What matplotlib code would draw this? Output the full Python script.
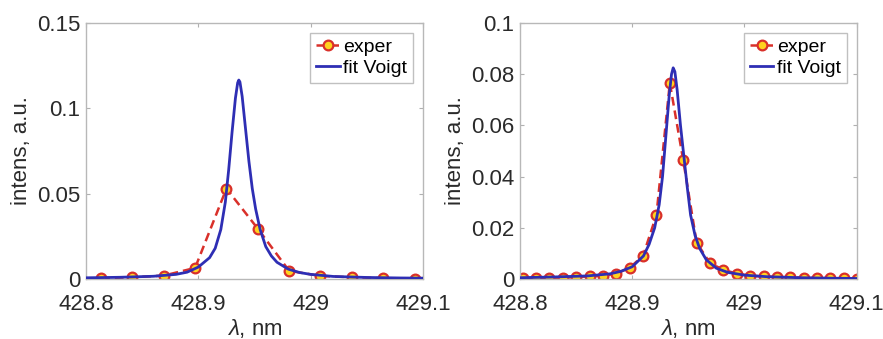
import matplotlib.pyplot as plt

plt.rcParams['font.family'] = ['Liberation Sans', 'DejaVu Sans']
plt.rcParams['mathtext.fontset'] = 'custom'
plt.rcParams['mathtext.it'] = 'Liberation Sans:italic'
plt.rcParams['mathtext.rm'] = 'Liberation Sans'

# left panel: measured points and fitted Voigt profile
exp1_x = [428.8134, 428.8413, 428.8692, 428.8971, 428.9250, 428.9529,
          428.9808, 429.0087, 429.0366, 429.0645, 429.0924]
exp1_y = [0.0005, 0.0010, 0.0020, 0.0065, 0.0530, 0.0295,
          0.0048, 0.0018, 0.0010, 0.0005, 0.0002]
fit1_x = [428.800, 428.830, 428.860, 428.880, 428.890, 428.900, 428.910,
          428.915, 428.920, 428.924, 428.927, 428.930, 428.933, 428.935,
          428.936, 428.937, 428.939, 428.942, 428.945, 428.948, 428.951,
          428.955, 428.960, 428.965, 428.970, 428.980, 428.990, 429.000,
          429.020, 429.050, 429.080, 429.100]
fit1_y = [0.0007, 0.0010, 0.0016, 0.0027, 0.0040, 0.0070, 0.0125,
          0.0180, 0.0290, 0.0450, 0.0640, 0.0860, 0.1060, 0.1150,
          0.1166, 0.1155, 0.1070, 0.0880, 0.0690, 0.0530, 0.0410,
          0.0290, 0.0190, 0.0135, 0.0098, 0.0058, 0.0038, 0.0027,
          0.0015, 0.0009, 0.0006, 0.0005]

# right panel
exp2_x = [428.8024, 428.8143, 428.8262, 428.8382, 428.8501, 428.8620,
          428.8739, 428.8858, 428.8978, 428.9097, 428.9216, 428.9335,
          428.9454, 428.9574, 428.9693, 428.9812, 428.9931, 429.0050,
          429.0170, 429.0289, 429.0408, 429.0527, 429.0646, 429.0766,
          429.0885, 429.1004]
exp2_y = [0.0004, 0.0004, 0.0005, 0.0005, 0.0008, 0.0010, 0.0013,
          0.0021, 0.0044, 0.0091, 0.0251, 0.0766, 0.0465, 0.0142,
          0.0062, 0.0036, 0.0021, 0.0013, 0.0010, 0.0008, 0.0007,
          0.0005, 0.0004, 0.0004, 0.0003, 0.0001]
fit2_x = [428.800, 428.830, 428.860, 428.880, 428.890, 428.900, 428.910,
          428.915, 428.920, 428.924, 428.927, 428.930, 428.933, 428.935,
          428.9365, 428.938, 428.940, 428.943, 428.946, 428.949, 428.952,
          428.956, 428.960, 428.966, 428.975, 428.985, 429.000, 429.020,
          429.050, 429.080, 429.100]
fit2_y = [0.0005, 0.0008, 0.0012, 0.0020, 0.0030, 0.0048, 0.0090,
          0.0135, 0.0200, 0.0290, 0.0400, 0.0560, 0.0720, 0.0800,
          0.0825, 0.0810, 0.0740, 0.0600, 0.0480, 0.0360, 0.0250,
          0.0170, 0.0120, 0.0075, 0.0042, 0.0026, 0.0015, 0.0009,
          0.0005, 0.0003, 0.0002]

xticks = [428.8, 428.9, 429.0, 429.1]
xticklabels = ['428.8', '428.9', '429', '429.1']
yticks1 = [0, 0.05, 0.1, 0.15]
yticklabels1 = ['0', '0.05', '0.1', '0.15']
yticks2 = [0, 0.02, 0.04, 0.06, 0.08, 0.1]
yticklabels2 = ['0', '0.02', '0.04', '0.06', '0.08', '0.1']

red = '#d9302a'
blue = '#2e2eb4'
yellow = '#ffd21f'

fig = plt.figure(figsize=(8.83, 3.39), dpi=100)
ax1 = fig.add_axes([0.0974, 0.177, 0.3817, 0.755])
ax2 = fig.add_axes([0.5889, 0.177, 0.3813, 0.755])

panels = [
    (ax1, exp1_x, exp1_y, fit1_x, fit1_y, yticks1, yticklabels1, 0.15),
    (ax2, exp2_x, exp2_y, fit2_x, fit2_y, yticks2, yticklabels2, 0.1),
]

for ax, ex, ey, fx, fy, yt, ytl, ymax in panels:
    ax.plot(ex, ey, '--o', color=red, lw=1.8, dashes=(3.5, 2),
            mfc=yellow, mec=red, mew=1.6, ms=7, label='exper', zorder=2)
    ax.plot(fx, fy, '-', color=blue, lw=2.0, label='fit Voigt', zorder=3)
    ax.set_xlim(428.8, 429.1)
    ax.set_ylim(0, ymax)
    ax.set_xticks(xticks)
    ax.set_xticklabels(xticklabels)
    ax.set_yticks(yt)
    ax.set_yticklabels(ytl)
    ax.tick_params(direction='in', top=True, right=True, length=3,
                   width=0.8, color='#b0b0b0', labelsize=16,
                   labelcolor='#2a2a2a', pad=4)
    ax.tick_params(axis='x', pad=11)
    for s in ax.spines.values():
        s.set_color('#b8b8b8')
        s.set_linewidth(1.0)
    ax.set_xlabel(r'$\lambda$, nm', fontsize=16, color='#2a2a2a', labelpad=1)
    ax.set_ylabel('intens, a.u.', fontsize=16, color='#2a2a2a', labelpad=4)
    leg = ax.legend(loc='upper right', fontsize=14, handlelength=1.2,
                    handletextpad=0.2, borderpad=0.3, labelspacing=0.15,
                    borderaxespad=0.5, fancybox=False, framealpha=1,
                    edgecolor='#c0c0c0')
    leg.get_frame().set_linewidth(1.0)

fig.savefig('out.png', dpi=100)
